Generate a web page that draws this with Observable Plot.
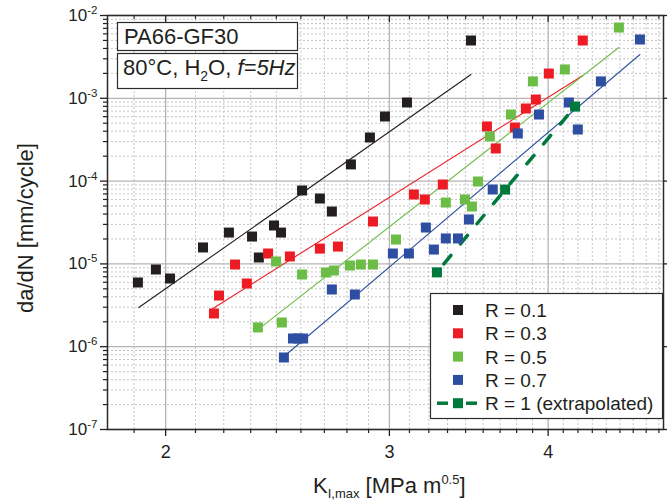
<!DOCTYPE html>
<html><head><meta charset="utf-8">
<script src="https://cdn.jsdelivr.net/npm/d3@7"></script>
<script src="https://cdn.jsdelivr.net/npm/@observablehq/plot@0.6"></script>
<style>
html,body{margin:0;padding:0;background:#fff;}
#chart{width:667px;height:502px;overflow:hidden;}
svg{display:block;}
</style></head><body><div id="chart"></div>
<script>
// ---- data (K_I,max in MPa m^0.5, da/dN in mm/cycle) ----
const kR01 = [1.902, 1.965, 2.016, 2.140, 2.243, 2.339, 2.368, 2.434, 2.465, 2.561, 2.645, 2.703, 2.798, 2.896, 2.976, 3.097, 3.478];
const daR01 = [5.96e-6, 8.56e-6, 6.66e-6, 1.58e-5, 2.39e-5, 2.14e-5, 1.195e-5, 2.91e-5, 2.39e-5, 7.70e-5, 6.16e-5, 4.29e-5, 1.59e-4, 3.36e-4, 6.03e-4, 8.90e-4, 4.99e-3];
const kR03 = [2.183, 2.203, 2.268, 2.317, 2.408, 2.505, 2.645, 2.733, 2.912, 3.136, 3.199, 3.305, 3.580, 3.638, 3.766, 3.842, 3.912, 4.005, 4.259];
const daR03 = [2.52e-6, 4.15e-6, 9.83e-6, 5.80e-6, 1.335e-5, 1.23e-5, 1.53e-5, 1.62e-5, 3.25e-5, 6.89e-5, 6.0e-5, 9.10e-5, 4.57e-4, 2.48e-4, 4.44e-4, 7.53e-4, 9.67e-4, 1.99e-3, 4.99e-3];
const kR05 = [2.364, 2.469, 2.443, 2.561, 2.674, 2.713, 2.793, 2.849, 2.912, 3.036, 3.323, 3.440, 3.484, 3.522, 3.599, 3.739, 3.891, 4.123, 4.547];
const daR05 = [1.71e-6, 1.96e-6, 1.07e-5, 7.45e-6, 7.87e-6, 8.32e-6, 9.56e-6, 9.83e-6, 9.83e-6, 1.97e-5, 5.51e-5, 6.0e-5, 4.93e-5, 9.89e-5, 3.46e-4, 6.37e-4, 1.60e-3, 2.23e-3, 7.16e-3];
const kR07 = [2.478, 2.519, 2.542, 2.566, 2.703, 2.818, 3.019, 3.108, 3.205, 3.252, 3.323, 3.397, 3.465, 3.618, 3.786, 3.934, 4.153, 4.221, 4.401, 4.724];
const daR07 = [7.41e-7, 1.256e-6, 1.256e-6, 1.256e-6, 4.91e-6, 4.27e-6, 1.335e-5, 1.335e-5, 2.75e-5, 1.49e-5, 2.03e-5, 2.03e-5, 3.44e-5, 7.92e-5, 3.76e-4, 6.37e-4, 8.90e-4, 4.20e-4, 1.60e-3, 5.13e-3];
const kR1 = [3.27, 3.70, 4.20];
const daR1 = [7.9e-6, 7.9e-5, 7.95e-4];

// fitted power-law lines (end points)
const fitKR01 = [1.905, 3.478], fitDaR01 = [2.97e-6, 1.94e-3];
const fitKR03 = [2.179, 4.259], fitDaR03 = [2.89e-6, 1.885e-3];
const fitKR05 = [2.364, 4.547], fitDaR05 = [1.61e-6, 4.11e-3];
const fitKR07 = [2.478, 4.724], fitDaR07 = [7.61e-7, 3.38e-3];

const seriesNames = ["R = 0.1", "R = 0.3", "R = 0.5", "R = 0.7", "R = 1 (extrapolated)"];
const seriesColors = ["#231f20", "#ed1c24", "#6bbd45", "#2e4fa1", "#00793d"];

// ticks
const xMajor = [2, 3, 4];
const xMinor = [1.8889, 2.1111, 2.2222, 2.3333, 2.4444, 2.5556, 2.6667, 2.7778, 2.8889,
  3.1111, 3.2222, 3.3333, 3.4444, 3.5556, 3.6667, 3.7778, 3.8889,
  4.1111, 4.2222, 4.3333, 4.4444, 4.5556, 4.6667, 4.7778, 4.8889];
const yMajor = [1e-7, 1e-6, 1e-5, 1e-4, 1e-3, 1e-2];
const yExponents = ["-7", "-6", "-5", "-4", "-3", "-2"];
const yMinorMult = [2, 3, 4, 5, 6, 7, 8, 9];
const yMinor = yMajor.slice(0, 5).flatMap(d => yMinorMult.map(m => m * d));

const textBox1 = "PA66-GF30";
const xLabelMain = "K", xLabelSub = "I,max", xLabelMid = " [MPa m", xLabelSup = "0.5", xLabelEnd = "]";
const yLabel = "da/dN [mm/cycle]";

// ---- build ----
const FONT = "'Liberation Sans', Arial, Helvetica, sans-serif";
const W = 667, H = 502, mL = 107, mR = 4, mT = 15, mB = 73;
const plotH = H - mT - mB;
const toRows = (ks, ds) => ks.map((k, i) => ({k, da: ds[i]}));
const ptSets = [toRows(kR01, daR01), toRows(kR03, daR03), toRows(kR05, daR05), toRows(kR07, daR07)];
const fitSets = [toRows(fitKR01, fitDaR01), toRows(fitKR03, fitDaR03), toRows(fitKR05, fitDaR05), toRows(fitKR07, fitDaR07)];
const r1 = toRows(kR1, daR1);
const sqR = 10 / Math.sqrt(Math.PI);

const marks = [
  Plot.gridY(yMinor, {stroke: "#c6c6c6", strokeOpacity: 1, strokeDasharray: "2,2", strokeWidth: 1}),
  Plot.gridX(xMinor, {stroke: "#c6c6c6", strokeOpacity: 1, strokeDasharray: "2,2", strokeWidth: 1}),
  Plot.gridY(yMajor, {stroke: "#b4b4b4", strokeOpacity: 1, strokeWidth: 1.3}),
  Plot.gridX(xMajor, {stroke: "#b4b4b4", strokeOpacity: 1, strokeWidth: 1.3}),
  ...fitSets.map((rows, i) => Plot.line(rows, {x: "k", y: "da", stroke: seriesColors[i], strokeWidth: 1.1})),
  Plot.line(r1, {x: "k", y: "da", stroke: seriesColors[4], strokeWidth: 3.5, strokeDasharray: "11,15", strokeDashoffset: 15}),
  ...ptSets.map((rows, i) => Plot.dot(rows, {x: "k", y: "da", symbol: "square", r: sqR, fill: seriesColors[i], stroke: "none"})),
  Plot.dot(r1, {x: "k", y: "da", symbol: "square", r: sqR, fill: seriesColors[4], stroke: "none"}),
  Plot.frame({stroke: "#2b2b2b", strokeWidth: 1.5}),
  Plot.axisX(xMinor, {tickSize: 4, tickFormat: () => "", label: null, strokeWidth: 1.2}),
  Plot.axisX(xMajor, {tickSize: 7, tickPadding: 9, tickFormat: d => String(d), label: null, fontSize: 18, strokeWidth: 1.3}),
  Plot.tickX(xMinor, {x: d => d, insetBottom: plotH - 4, stroke: "#2b2b2b", strokeWidth: 1.2}),
  Plot.tickX(xMajor, {x: d => d, insetBottom: plotH - 7, stroke: "#2b2b2b", strokeWidth: 1.3}),
  Plot.axisY(yMinor, {tickSize: 4, tickFormat: () => "", label: null, strokeWidth: 1.2}),
  Plot.axisY(yMajor, {tickSize: 7, tickPadding: 3, tickFormat: d => "E" + yExponents[yMajor.indexOf(d)], label: null, fontSize: 17, strokeWidth: 1.3}),
  Plot.axisY(yMajor, {anchor: "right", tickSize: 4, tickFormat: () => "", label: null, strokeWidth: 1.3})
];

const svgEl = Plot.plot({
  width: W, height: H,
  marginLeft: mL, marginRight: mR, marginTop: mT, marginBottom: mB,
  x: {type: "log", domain: [1.8, 4.93]},
  y: {type: "log", domain: [1e-7, 1e-2]},
  style: {fontFamily: FONT, fontSize: "17px", background: "#fff", color: "#231f20", overflow: "visible"},
  marks
});
document.getElementById("chart").appendChild(svgEl);

const svg = d3.select(svgEl);

// superscript y tick labels
svg.selectAll("text").each(function() {
  const t = this.textContent;
  if (/^E-?\d+$/.test(t)) {
    const sel = d3.select(this);
    sel.text(null);
    sel.append("tspan").text("10");
    sel.append("tspan").attr("dy", "-7").attr("font-size", 11.5).text(t.slice(1));
  }
});

// axis titles
const xl = svg.append("text").attr("x", 313).attr("y", 493).attr("text-anchor", "start")
  .attr("font-family", FONT).attr("font-size", 22).attr("fill", "#231f20");
xl.append("tspan").text(xLabelMain);
xl.append("tspan").attr("font-size", 13).attr("dy", 5).text(xLabelSub);
xl.append("tspan").attr("dy", -5).text(xLabelMid);
xl.append("tspan").attr("font-size", 13).attr("dy", -9).text(xLabelSup);
xl.append("tspan").attr("dy", 9).text(xLabelEnd);

svg.append("text").attr("transform", "translate(33,228) rotate(-90)")
  .attr("text-anchor", "middle").attr("font-family", FONT).attr("font-size", 22)
  .attr("fill", "#231f20").text(yLabel);

// annotation boxes
const ann = svg.append("g").attr("font-family", FONT).attr("fill", "#231f20").attr("text-anchor", "start");
ann.append("rect").attr("x", 117.5).attr("y", 22.5).attr("width", 180).attr("height", 28)
  .attr("fill", "#fff").attr("stroke", "#2b2b2b").attr("stroke-width", 1.2);
ann.append("rect").attr("x", 117.5).attr("y", 53.5).attr("width", 180).attr("height", 35)
  .attr("fill", "#fff").attr("stroke", "#2b2b2b").attr("stroke-width", 1.2);
ann.append("text").attr("x", 124).attr("y", 44).attr("font-size", 22).text(textBox1);
const t2 = ann.append("text").attr("x", 123).attr("y", 75).attr("font-size", 22);
t2.append("tspan").text("80°C, H");
t2.append("tspan").attr("font-size", 14).attr("dy", 6).text("2");
t2.append("tspan").attr("dy", -6).text("O, ");
t2.append("tspan").attr("font-style", "italic").text("f=5Hz");

// legend
const lg = svg.append("g").attr("font-family", FONT).attr("fill", "#231f20").attr("text-anchor", "start");
lg.append("rect").attr("x", 430.5).attr("y", 293.5).attr("width", 232).attr("height", 125)
  .attr("fill", "#fff").attr("stroke", "#2b2b2b").attr("stroke-width", 1.2);
seriesNames.forEach((name, i) => {
  const cy = 310 + i * 23.3;
  if (i === 4) {
    lg.append("line").attr("x1", 437).attr("x2", 448).attr("y1", cy).attr("y2", cy)
      .attr("stroke", seriesColors[i]).attr("stroke-width", 3.5);
    lg.append("line").attr("x1", 466).attr("x2", 477).attr("y1", cy).attr("y2", cy)
      .attr("stroke", seriesColors[i]).attr("stroke-width", 3.5);
  }
  lg.append("rect").attr("x", 453).attr("y", cy - 5).attr("width", 10).attr("height", 10)
    .attr("fill", seriesColors[i]);
  lg.append("text").attr("x", 485).attr("y", cy + 7).attr("font-size", 19).text(name);
});
</script>
</body></html>
